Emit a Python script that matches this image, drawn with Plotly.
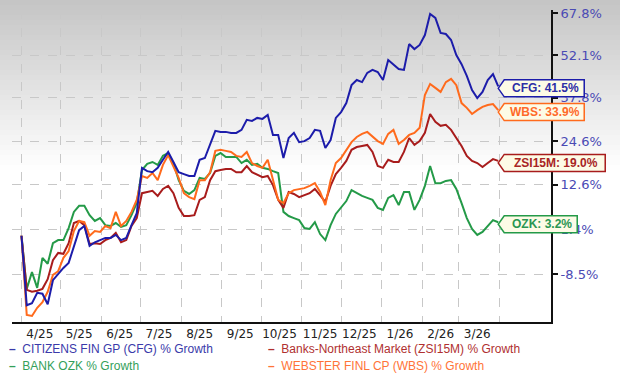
import numpy as np
import pandas as pd
import plotly.graph_objects as go

# ---------------- data ----------------
dates = pd.date_range("2025-04-01", periods=92, freq="4D")

cfg = [0.0, -14.9, -14.5, -12.4, -12.6, -14.7, -9.8, -8.5, -7.2, -6.1,
       -2.6, 1.3, 2.3, -2.3, -1.5, -1.0, -0.5, -0.5, 0.2, -1.0,
       -0.5, 2.5, 5.4, 17.1, 16.2, 15.9, 17.1, 19.3, 21.5, 18.7,
       15.9, 15.4, 14.9, 14.9, 19.3, 19.8, 23.5, 27.6, 27.3, 27.3,
       27.0, 27.0, 27.9, 30.9, 30.6, 31.5, 31.2, 32.4, 26.4, 26.4,
       19.8, 25.5, 27.0, 24.3, 24.6, 25.5, 27.9, 27.6, 22.6, 24.9,
       31.5, 33.3, 36.1, 41.9, 43.6, 42.9, 46.0, 47.0, 46.3, 43.6,
       50.4, 48.7, 47.3, 47.0, 56.1, 54.3, 55.8, 59.4, 67.4, 65.9,
       60.2, 59.8, 57.6, 52.2, 49.0, 45.0, 40.3, 37.7, 39.7, 43.6,
       45.6, 41.5]

wbs = [0.0, -16.8, -17.0, -15.4, -14.3, -12.2, -8.7, -7.9, -5.0, -3.5,
       1.1, 3.5, 3.2, 0.0, 1.1, 0.9, 2.3, 1.8, 5.7, 2.3,
       3.5, 5.7, 8.7, 14.9, 14.4, 15.7, 13.8, 17.9, 20.6, 17.3,
       14.4, 10.4, 9.4, 8.9, 13.8, 13.8, 15.9, 21.8, 22.1, 21.8,
       21.5, 20.4, 20.1, 21.5, 18.4, 17.6, 17.1, 19.3, 13.8, 8.7,
       7.9, 10.4, 11.2, 11.5, 11.7, 12.3, 13.0, 10.7, 7.4, 13.8,
       18.4, 19.8, 22.1, 24.3, 25.8, 26.7, 27.3, 25.8, 24.6, 23.8,
       26.7, 27.9, 23.8, 24.9, 26.4, 27.0, 28.5, 38.7, 42.3, 41.0,
       39.7, 42.9, 44.0, 41.9, 36.1, 34.6, 32.7, 33.9, 34.9, 35.5,
       35.8, 33.9]

zsi = [0.0, -11.8, -12.2, -12.0, -11.6, -9.6, -5.5, -3.9, -4.1, -1.7,
       3.0, 3.5, 2.5, -1.9, -1.7, -1.9, -1.0, -0.5, 0.7, -1.5,
       -1.0, 2.3, 4.2, 10.4, 10.7, 11.0, 9.7, 11.5, 12.3, 10.4,
       6.7, 4.7, 4.7, 4.9, 8.7, 9.4, 13.8, 16.2, 16.5, 16.8,
       16.8, 15.9, 15.9, 17.6, 15.9, 15.2, 14.6, 14.9, 12.5, 8.7,
       6.7, 10.7, 10.2, 9.4, 9.9, 10.4, 11.5, 9.7, 8.2, 12.3,
       15.4, 17.1, 19.0, 22.1, 22.9, 23.2, 23.5, 21.5, 17.6, 17.1,
       19.3, 18.7, 18.7, 21.5, 25.5, 23.5, 24.6, 27.0, 32.7, 30.3,
       29.1, 29.4, 27.9, 25.5, 23.2, 20.4, 19.0, 18.4, 17.3, 18.4,
       19.5, 19.0]

ozk = [0.0, -11.6, -8.1, -11.4, -5.0, -6.3, -1.7, -1.0, -1.0, 1.8,
       5.7, 7.2, 7.2, 4.9, 3.5, 4.2, 2.5, 2.3, 3.0, 2.1,
       2.5, 4.9, 7.9, 16.5, 18.2, 18.7, 17.9, 20.4, 21.2, 18.4,
       13.8, 11.0, 10.2, 11.2, 14.4, 14.1, 15.7, 20.4, 21.2, 20.1,
       20.1, 20.1, 18.4, 19.3, 17.9, 18.2, 17.1, 16.8, 16.2, 15.7,
       5.7, 4.7, 4.2, 3.7, 1.8, 1.6, 3.2, 0.4, -1.0, 2.5,
       5.2, 6.7, 8.4, 11.2, 10.4, 9.7, 9.2, 8.7, 6.7, 6.2,
       9.2, 9.9, 7.4, 10.7, 10.7, 6.2, 8.7, 12.3, 17.6, 13.0,
       13.0, 13.6, 13.8, 11.5, 7.9, 4.2, 1.6, 0.2, 0.9, 2.3,
       3.7, 3.2]

month_labels = ["4/25", "5/25", "6/25", "7/25", "8/25", "9/25",
                "10/25", "11/25", "12/25", "1/26", "2/26", "3/26"]
y_tick_values = [67.8, 52.1, 37.8, 24.6, 12.6, 1.4, -8.5]
y_tick_labels = ["67.8%", "52.1%", "37.8%", "24.6%", "12.6%", "1.4%", "-8.5%"]

legend_names = {
    "cfg": "CITIZENS FIN GP (CFG) % Growth",
    "zsi": "Banks-Northeast Market (ZSI15M) % Growth",
    "ozk": "BANK OZK % Growth",
    "wbs": "WEBSTER FINL CP (WBS) % Growth",
}
tags = {"cfg": "CFG", "zsi": "ZSI15M", "ozk": "OZK", "wbs": "WBS"}
series = {"cfg": cfg, "zsi": zsi, "ozk": ozk, "wbs": wbs}
line_colors = {"cfg": "#1c1caa", "zsi": "#a81c1c", "ozk": "#249a48", "wbs": "#ff6a1c"}
text_colors = {"cfg": "#2e2ea6", "zsi": "#a82424", "ozk": "#2a9652", "wbs": "#ff6a2a"}
legend_colors = {"cfg": "#3a3aaa", "zsi": "#b03030", "ozk": "#34a05a", "wbs": "#ff7438"}

# ---------------- figure ----------------
W, H = 620, 377
ML, MR, MT, MB = 12, 69, 10, 55
PW, PH = W - ML - MR, H - MT - MB
x_range = [pd.Timestamp("2025-03-24 18:00"), pd.Timestamp("2026-05-10 07:00")]

fig = go.Figure()
for key in ["ozk", "zsi", "wbs", "cfg"]:
    fig.add_trace(go.Scatter(
        x=dates, y=[1 + v / 100 for v in series[key]], mode="lines",
        line=dict(color=line_colors[key], width=2), name=legend_names[key],
        showlegend=False, hoverinfo="skip"))

month_starts = pd.date_range("2025-04-01", "2026-04-01", freq="MS")
mid_months = [d + pd.Timedelta(days=14) for d in month_starts[:12]]

fig.update_xaxes(
    type="date", range=x_range, automargin=False,
    tickmode="array", tickvals=mid_months, ticktext=month_labels,
    showgrid=False, zeroline=False, ticks="",
    showline=True, linecolor="#111111", linewidth=2,
    tickfont=dict(family="DejaVu Sans", size=12, color="#222222"),
    minor=dict(tickmode="array", tickvals=list(month_starts), showgrid=True,
               gridcolor="#c8c8c8", griddash="dash", gridwidth=1, ticks=""),
)
fig.update_yaxes(
    type="log", side="right", range=[-0.0870, 0.2278], automargin=False,
    tickmode="array", tickvals=[1 + v / 100 for v in y_tick_values], ticktext=y_tick_labels,
    showgrid=True, gridcolor="#c8c8c8", griddash="dash", gridwidth=1, zeroline=False,
    showline=True, linecolor="#111111", linewidth=2,
    ticks="outside", ticklen=5, tickwidth=1.5, tickcolor="#111111",
    tickfont=dict(family="DejaVu Sans", size=13, color="#4a4ab4"),
)

# background gradient (top grey fading to white)
shapes = []
top_px, fade_px, step = 0, 170, 5
for y0 in range(top_px, fade_px, step):
    t = (y0 + step / 2) / fade_px
    g = int(round(196 + (255 - 196) * t))
    shapes.append(dict(type="rect", xref="paper", yref="paper", layer="below",
                       x0=(0 - ML) / PW, x1=(W - ML) / PW,
                       y0=(PH + MT - (y0 + step)) / PH, y1=(PH + MT - y0) / PH,
                       fillcolor=f"rgb({g},{g},{g})", line=dict(width=0)))

annotations = []
# end-value tags: pointed box anchored at each series' last point
end_frac = (dates[-1] - x_range[0]) / (x_range[1] - x_range[0])
tip, half_h = 6, 8.5
for key in ["cfg", "wbs", "zsi", "ozk"]:
    last = series[key][-1]
    label = f"{tags[key]}: {last:.1f}%"
    w = 7 * len(label) + 16
    yv = 1 + last / 100
    shapes.append(dict(
        type="path", xref="paper", yref="y", xsizemode="pixel", ysizemode="pixel",
        xanchor=end_frac, yanchor=yv, layer="above",
        path=f"M 0,-2 L {tip},{half_h - 2} L {w},{half_h - 2} L {w},{-half_h - 2} L {tip},{-half_h - 2} Z",
        fillcolor="#fdfbe6", line=dict(color=line_colors[key], width=1.5)))
    annotations.append(dict(
        x=dates[-1], y=np.log10(yv), xref="x", yref="y",
        text=f"<b>{label}</b>", showarrow=False,
        xanchor="center", xshift=(tip + w) / 2 + 1, yshift=-2,
        font=dict(family="Liberation Sans", size=12, color=text_colors[key])))

# legend
legend_pos = {"cfg": (7, 349), "zsi": (266, 349), "ozk": (7, 366), "wbs": (266, 366)}
for key, (px, py) in legend_pos.items():
    annotations.append(dict(
        x=(px - ML) / PW, y=(PH + MT - py) / PH, xref="paper", yref="paper",
        text=f"<b>–</b>&nbsp;&nbsp;{legend_names[key]}", showarrow=False,
        xanchor="left", yanchor="middle",
        font=dict(family="Liberation Sans", size=12, color=legend_colors[key])))

fig.update_layout(
    width=W, height=H, autosize=False,
    margin=dict(l=ML, r=MR, t=MT, b=MB, pad=0),
    paper_bgcolor="#ffffff", plot_bgcolor="rgba(0,0,0,0)",
    shapes=shapes, annotations=annotations, showlegend=False,
)

fig.write_html("out.html", config={"displayModeBar": False},
               post_script="document.body.style.margin='0';document.body.style.padding='0';")
